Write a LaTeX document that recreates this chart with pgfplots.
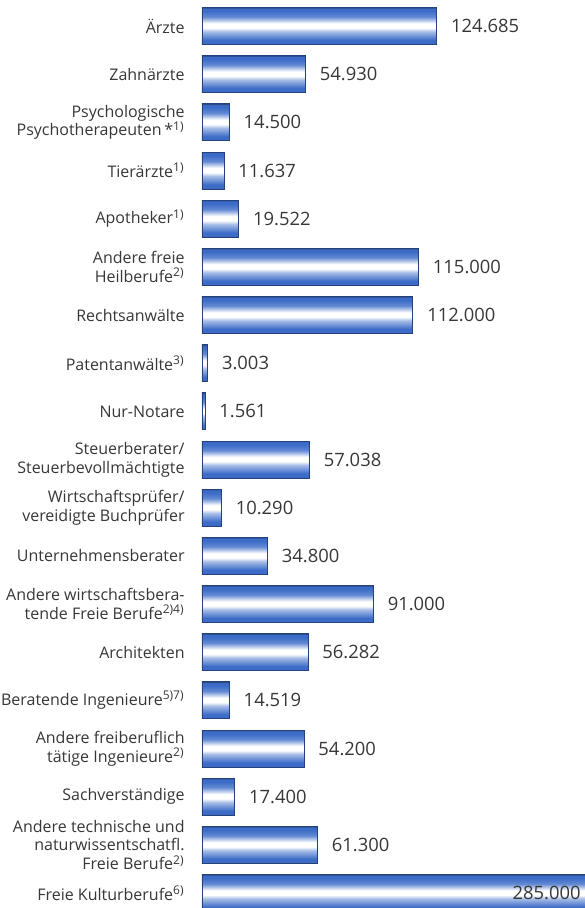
\documentclass[border=0pt]{standalone}
\usepackage{fontspec}
\setmainfont{Open Sans}
\usepackage{pgfplots}
\pgfplotsset{compat=1.18}
\usetikzlibrary{calc}

\definecolor{bblue}{RGB}{60,108,200}
\definecolor{bdark}{RGB}{38,66,122}
\definecolor{txt}{RGB}{55,55,55}

% bar look: dark rim, blue, white highlight a bit above the middle
% (the path box is mapped onto 25bp..75bp of the shading)
\pgfdeclareverticalshading{barshade}{100bp}{color(0bp)=(bdark); color(25bp)=(bdark); color(26.5bp)=(bblue); color(31bp)=(bblue); color(42.5bp)=(bblue!45!white); color(47.5bp)=(white); color(53.5bp)=(white); color(62.5bp)=(bblue!80!white); color(70bp)=(bblue); color(73.5bp)=(bblue); color(75bp)=(bdark); color(100bp)=(bdark)}

\pgfplotsset{
  bar/.style={xbar, shade, shading=barshade, draw=bdark, line width=0.4pt,
    nodes near coords,
    every node near coord/.style={anchor=west, inner sep=0pt, xshift=7pt,
      text=txt, font=\fontsize{9.2}{10}\selectfont}},
}
% one plot per bar, so that every bar gets its own shading
\newcommand\onebar[2]{\addplot[bar] coordinates {(#1,#2)};}

\begin{document}
\begin{tikzpicture}[font=\fontsize{8}{9.4}\selectfont]
\begin{axis}[
  scale only axis,
  width=191.5pt, height=454pt,
  xmin=0, xmax=203400,
  ymin=-0.54, ymax=18.31,
  y dir=reverse,
  axis line style={draw=none},
  tick style={draw=none},
  xtick=\empty,
  ytick={0,...,18},
  yticklabels={
    {\"Arzte},
    {Zahn\"arzte},
    {Psychologische\\Psychotherapeuten\,*\textsuperscript{1)}},
    {Tier\"arzte\textsuperscript{1)}},
    {Apotheker\textsuperscript{1)}},
    {Andere freie\\Heilberufe\textsuperscript{2)}},
    {Rechtsanw\"alte},
    {Patentanw\"alte\textsuperscript{3)}},
    {Nur-Notare},
    {Steuerberater/\\Steuerbevollm\"achtigte},
    {Wirtschaftspr\"ufer/\\vereidigte Buchpr\"ufer},
    {Unternehmensberater},
    {Andere wirtschaftsbera-\\tende Freie Berufe\textsuperscript{2)4)}},
    {Architekten},
    {Beratende Ingenieure\textsuperscript{5)7)}},
    {Andere freiberuflich\\t\"atige Ingenieure\textsuperscript{2)}},
    {Sachverst\"andige},
    {Andere technische und\\naturwissentschatfl.\\Freie Berufe\textsuperscript{2)}},
    {Freie Kulturberufe\textsuperscript{6)}}
  },
  yticklabel style={align=right, inner sep=0pt, xshift=-8.5pt, text=txt},
  bar width=18.5pt,
  bar shift=0pt,
  /pgf/number format/.cd, fixed, precision=0, 1000 sep={.}, assume math mode=true,
]
\onebar{124685}{0}
\onebar{54930}{1}
\onebar{14500}{2}
\onebar{11637}{3}
\onebar{19522}{4}
\onebar{115000}{5}
\onebar{112000}{6}
\onebar{3003}{7}
\onebar{1561}{8}
\onebar{57038}{9}
\onebar{10290}{10}
\onebar{34800}{11}
\onebar{91000}{12}
\onebar{56282}{13}
\onebar{14519}{14}
\onebar{54200}{15}
\onebar{17400}{16}
\onebar{61300}{17}
\addplot[xbar, shade, shading=barshade, draw=bdark, line width=0.4pt]
  coordinates {(285000,18)};
% value of the last bar, which runs past the right edge
\addplot[draw=none, mark=none, point meta=explicit symbolic,
  nodes near coords,
  every node near coord/.style={anchor=east, inner sep=0pt,
    text=txt, font=\fontsize{9.2}{10}\selectfont}]
  coordinates {(201300,18) [285.000]};
\end{axis}
\pgfresetboundingbox
\path[use as bounding box] ($(current axis.south west)+(-101pt,0)$) rectangle (current axis.north east);
\end{tikzpicture}
\end{document}
